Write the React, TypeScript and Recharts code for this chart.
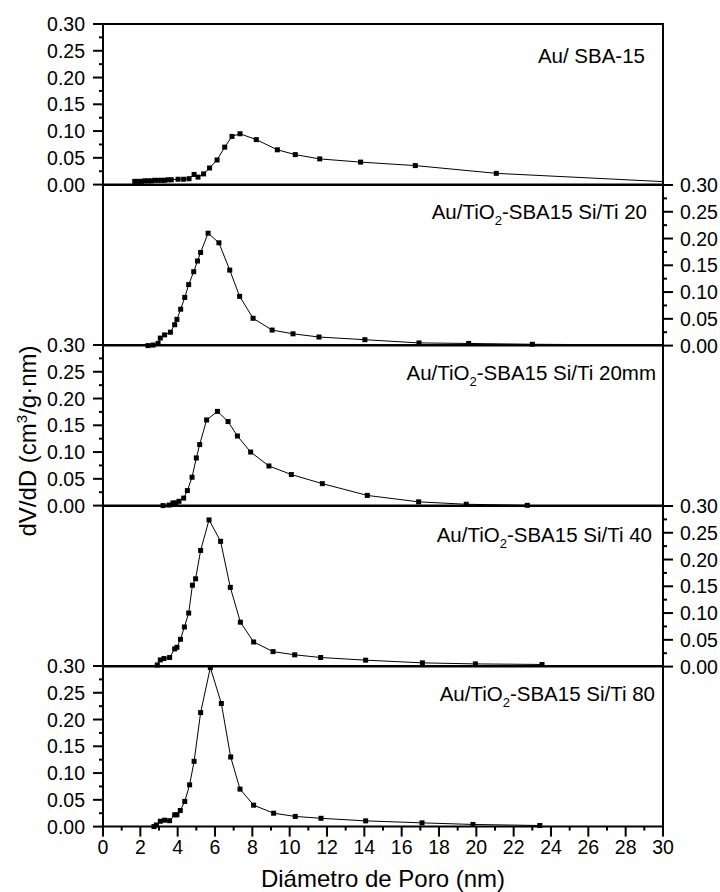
import React from "react";
import { LineChart, Line, XAxis, YAxis, ReferenceArea } from "recharts";

// pore diameter (nm) / dV/dD values
const sbaDiam = [1.7, 1.88, 2.06, 2.23, 2.41, 2.59, 2.77, 2.95, 3.13, 3.3, 3.48, 3.66, 4.02, 4.32, 4.61, 4.88, 5.09, 5.39, 5.71, 6.11, 6.52, 6.91, 7.34, 8.21, 9.34, 10.3, 11.61, 13.8, 16.73, 21.07, 31.5];
const sbaDv = [0.006, 0.006, 0.006, 0.007, 0.007, 0.007, 0.008, 0.008, 0.008, 0.008, 0.009, 0.009, 0.01, 0.01, 0.011, 0.019, 0.014, 0.02, 0.031, 0.046, 0.07, 0.09, 0.095, 0.084, 0.065, 0.056, 0.048, 0.042, 0.0355, 0.021, 0.003];

const ti20Diam = [2.41, 2.68, 2.95, 3.07, 3.3, 3.61, 3.84, 3.96, 4.16, 4.38, 4.59, 4.86, 5.06, 5.23, 5.63, 6.21, 6.79, 7.32, 8.04, 9.06, 10.18, 11.57, 14.03, 16.93, 19.59, 23.0, 31.5];
const ti20Dv = [0.0, 0.001, 0.004, 0.014, 0.02, 0.025, 0.039, 0.049, 0.068, 0.09, 0.114, 0.138, 0.158, 0.174, 0.21, 0.192, 0.141, 0.092, 0.051, 0.029, 0.022, 0.016, 0.011, 0.005, 0.004, 0.0025, 0.0005];

const ti20mmDiam = [3.22, 3.54, 3.75, 3.9, 4.07, 4.32, 4.52, 4.77, 5.0, 5.18, 5.55, 6.13, 6.7, 7.2, 7.91, 8.89, 10.09, 11.75, 14.16, 16.91, 19.46, 22.73];
const ti20mmDv = [0.0, 0.001, 0.005, 0.005, 0.008, 0.014, 0.028, 0.053, 0.089, 0.114, 0.16, 0.176, 0.157, 0.13, 0.1, 0.074, 0.058, 0.041, 0.019, 0.007, 0.0025, 0.0005];

const ti40Diam = [2.91, 3.07, 3.27, 3.57, 3.84, 3.96, 4.15, 4.36, 4.59, 4.79, 4.96, 5.23, 5.68, 6.3, 6.82, 7.36, 8.07, 9.11, 10.27, 11.66, 14.07, 17.11, 19.95, 23.52];
const ti40Dv = [0.003, 0.0125, 0.015, 0.017, 0.033, 0.036, 0.051, 0.074, 0.1, 0.152, 0.164, 0.217, 0.274, 0.234, 0.148, 0.083, 0.046, 0.028, 0.022, 0.017, 0.012, 0.007, 0.005, 0.004];

const ti80Diam = [2.73, 2.86, 3.07, 3.3, 3.57, 3.84, 3.96, 4.14, 4.38, 4.64, 4.88, 5.23, 5.75, 6.34, 6.84, 7.34, 8.07, 9.14, 10.3, 11.68, 14.07, 17.09, 19.82, 23.4];
const ti80Dv = [0.0, 0.003, 0.01, 0.012, 0.011, 0.022, 0.022, 0.03, 0.047, 0.078, 0.122, 0.213, 0.297, 0.23, 0.13, 0.07, 0.04, 0.025, 0.019, 0.0155, 0.0107, 0.007, 0.004, 0.002];

const yTicks = [0, 0.025, 0.05, 0.075, 0.1, 0.125, 0.15, 0.175, 0.2, 0.225, 0.25, 0.275, 0.3];
const xTicks = [0, 1, 2, 3, 4, 5, 6, 7, 8, 9, 10, 11, 12, 13, 14, 15, 16, 17, 18, 19, 20, 21, 22, 23, 24, 25, 26, 27, 28, 29, 30];

const FONT = '"Liberation Sans", Arial, Helvetica, sans-serif';
const TICK_FS = 19.5;
const W = 720;
const LEFT = 103;
const RIGHT = 663;
const TOP = 24;
const PANEL_H = 160.6;
const PAD = 12;

const zip = (xs: number[], ys: number[]) => xs.map((d, i) => ({ d, v: ys[i] }));

const panels = [
  { data: zip(sbaDiam, sbaDv), side: "left", pre: "Au/ SBA-15", sub: "", post: "", lx: 645, ly: 38.7 },
  { data: zip(ti20Diam, ti20Dv), side: "right", pre: "Au/TiO", sub: "2", post: "-SBA15 Si/Ti 20", lx: 647, ly: 34.5 },
  { data: zip(ti20mmDiam, ti20mmDv), side: "left", pre: "Au/TiO", sub: "2", post: "-SBA15 Si/Ti 20mm", lx: 656, ly: 35 },
  { data: zip(ti40Diam, ti40Dv), side: "right", pre: "Au/TiO", sub: "2", post: "-SBA15 Si/Ti 40", lx: 652, ly: 36 },
  { data: zip(ti80Diam, ti80Dv), side: "left", pre: "Au/TiO", sub: "2", post: "-SBA15 Si/Ti 80", lx: 655, ly: 35 },
];

const isMajorY = (v: number) => Math.round(v * 40) % 2 === 0;

function LeftTick({ x, y, payload }: any) {
  const major = isMajorY(payload.value);
  return (
    <g>
      <line x1={x - (major ? 10 : 4)} x2={x} y1={y} y2={y} stroke="#000" strokeWidth={2} />
      {major && (
        <text x={x - 18} y={y} dy="0.36em" textAnchor="end" fontSize={TICK_FS} fontFamily={FONT} fill="#000">
          {payload.value.toFixed(2)}
        </text>
      )}
    </g>
  );
}

function RightTick({ x, y, payload }: any) {
  const major = isMajorY(payload.value);
  return (
    <g>
      <line x1={x} x2={x + (major ? 10 : 4)} y1={y} y2={y} stroke="#000" strokeWidth={2} />
      {major && (
        <text x={x + 17} y={y} dy="0.36em" textAnchor="start" fontSize={TICK_FS} fontFamily={FONT} fill="#000">
          {payload.value.toFixed(2)}
        </text>
      )}
    </g>
  );
}

function BottomTick({ x, y, payload }: any) {
  const major = payload.value % 2 === 0;
  return (
    <g>
      <line x1={x} x2={x} y1={y} y2={y + (major ? 10 : 4)} stroke="#000" strokeWidth={2} />
      {major && (
        <text x={x} y={y + 27} textAnchor="middle" fontSize={TICK_FS} fontFamily={FONT} fill="#000">
          {payload.value}
        </text>
      )}
    </g>
  );
}

function SquareDot({ cx, cy }: any) {
  if (cx == null || cy == null) return null;
  return <rect x={cx - 2.5} y={cy - 2.5} width={5} height={5} fill="#000" />;
}

function Panel({ index }: { index: number }) {
  const p = panels[index];
  const last = index === panels.length - 1;
  const top = TOP + index * PANEL_H;
  const xAxisH = last ? 30 : 0;
  const mBottom = last ? 10 : PAD;
  const height = PAD + PANEL_H + mBottom + xAxisH;
  const yW = p.side === "left" ? 60 : 57;
  const margin =
    p.side === "left"
      ? { top: PAD, bottom: mBottom, left: LEFT - yW, right: W - RIGHT }
      : { top: PAD, bottom: mBottom, left: LEFT, right: W - RIGHT - yW };

  return (
    <div style={{ position: "absolute", left: 0, top: top - PAD }}>
      <LineChart width={W} height={height} data={p.data} margin={margin}>
        <XAxis
          dataKey="d"
          type="number"
          domain={[0, 30]}
          allowDataOverflow
          ticks={xTicks}
          interval={0}
          hide={!last}
          height={30}
          axisLine={false}
          tickLine={false}
          tickSize={0}
          tickMargin={0}
          tick={(props: any) => <BottomTick {...props} />}
        />
        <YAxis
          yAxisId="y"
          orientation={p.side as "left" | "right"}
          type="number"
          domain={[0, 0.3]}
          ticks={yTicks}
          interval={0}
          width={yW}
          axisLine={false}
          tickLine={false}
          tickSize={0}
          tickMargin={0}
          tick={(props: any) => (p.side === "left" ? <LeftTick {...props} /> : <RightTick {...props} />)}
        />
        <ReferenceArea
          yAxisId="y"
          x1={0}
          x2={30}
          y1={0}
          y2={0.3}
          fill="none"
          fillOpacity={0}
          stroke="#000"
          strokeWidth={2}
          ifOverflow="visible"
        />
        <Line
          yAxisId="y"
          dataKey="v"
          type="linear"
          stroke="#000"
          strokeWidth={1}
          dot={(props: any) => <SquareDot key={props.index} {...props} />}
          activeDot={false}
          isAnimationActive={false}
        />
      </LineChart>
    </div>
  );
}

export default function App() {
  return (
    <div style={{ position: "absolute", left: 0, top: 0, width: W, height: 892, background: "#fff" }}>
      {panels.map((_, i) => (
        <Panel key={i} index={i} />
      ))}
      <svg width={W} height={892} style={{ position: "absolute", left: 0, top: 0, pointerEvents: "none" }}>
        {panels.map((p, i) => (
          <text
            key={i}
            x={p.lx}
            y={TOP + i * PANEL_H + p.ly}
            textAnchor="end"
            fontSize={20.5}
            fontFamily={FONT}
            fill="#000"
          >
            <tspan>{p.pre}</tspan>
            {p.sub && (
              <>
                <tspan dy={6} fontSize={13}>
                  {p.sub}
                </tspan>
                <tspan dy={-6}>{p.post}</tspan>
              </>
            )}
          </text>
        ))}
        <text x={(LEFT + RIGHT) / 2} y={887} textAnchor="middle" fontSize={24} fontFamily={FONT} fill="#000">
          Diámetro de Poro (nm)
        </text>
        <text
          x={36}
          y={441}
          transform="rotate(-90 36 441)"
          textAnchor="middle"
          fontSize={24}
          fontFamily={FONT}
          fill="#000"
        >
          <tspan>dV/dD (cm</tspan>
          <tspan dy={-9} fontSize={15}>
            3
          </tspan>
          <tspan dy={9}>/g·nm)</tspan>
        </text>
      </svg>
    </div>
  );
}
